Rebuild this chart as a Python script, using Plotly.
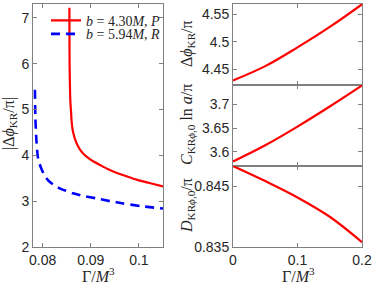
import plotly.graph_objects as go

# ---- data ----
red_gamma = [0.08556, 0.08557, 0.0856, 0.08566, 0.08575, 0.0859, 0.0860, 0.0862, 0.0865, 0.0868,
             0.0872, 0.0878, 0.0885, 0.0894, 0.0905, 0.0919, 0.0935, 0.0953, 0.0975, 0.0995, 0.1020, 0.1050]
red_phi = [7.22, 6.6, 6.0, 5.6, 5.2, 4.95, 4.77, 4.58, 4.43, 4.33,
           4.23, 4.12, 4.03, 3.95, 3.87, 3.79, 3.70, 3.62, 3.54, 3.47, 3.40, 3.32]

blue_gamma = [0.0784, 0.0785, 0.0787, 0.0790, 0.0793, 0.0797, 0.0803, 0.0811, 0.0822, 0.0835,
              0.0850, 0.0863, 0.0885, 0.0912, 0.0940, 0.0967, 0.1005, 0.1050]
blue_phi = [5.43, 4.8, 4.34, 3.97, 3.83, 3.72, 3.58, 3.46, 3.36, 3.28,
            3.22, 3.17, 3.11, 3.06, 3.00, 2.95, 2.89, 2.84]

gamma_r = [0, 0.05, 0.1, 0.15, 0.2]
dphi_r = [4.430, 4.456, 4.490, 4.527, 4.568]
c_r = [3.580, 3.614, 3.653, 3.695, 3.739]
d_r = [0.8484, 0.8459, 0.8432, 0.8400, 0.8358]

left_xticks = [0.08, 0.09, 0.1]
left_xticklabels = ["0.08", "0.09", "0.1"]
left_yticks = [2, 3, 4, 5, 6, 7]
right_xticks = [0, 0.1, 0.2]
right_xticklabels = ["0", "0.1", "0.2"]
top_yticks = [4.45, 4.5, 4.55]
mid_yticks = [3.6, 3.65, 3.7]
bot_yticks = [0.835, 0.845]

W, H = 374, 288
def px(x): return x / W
def py(y): return 1 - y / H

RED = "#ff0000"
BLUE = "#0000ff"
AX = "#808080"
TXT = "#262626"
SANS = "Liberation Sans, Arial, sans-serif"
SERIF = "Liberation Serif, Times New Roman, serif"

fig = go.Figure()
fig.add_trace(go.Scatter(x=red_gamma, y=red_phi, mode="lines", line=dict(color=RED, width=2.2, shape="spline", smoothing=0.6),
                         name="<i>b</i> = 4.30<i>M</i>, <i>P</i>", xaxis="x", yaxis="y", legend="legend"))
fig.add_trace(go.Scatter(x=blue_gamma, y=blue_phi, mode="lines",
                         line=dict(color=BLUE, width=2.6, dash="9px,6px", shape="spline", smoothing=0.6),
                         name="<i>b</i> = 5.94<i>M</i>, <i>R</i>", xaxis="x", yaxis="y", legend="legend2"))
fig.add_trace(go.Scatter(x=gamma_r, y=dphi_r, mode="lines", line=dict(color=RED, width=2.2, shape="spline"),
                         showlegend=False, xaxis="x2", yaxis="y2"))
fig.add_trace(go.Scatter(x=gamma_r, y=c_r, mode="lines", line=dict(color=RED, width=2.2, shape="spline"),
                         showlegend=False, xaxis="x3", yaxis="y3"))
fig.add_trace(go.Scatter(x=gamma_r, y=d_r, mode="lines", line=dict(color=RED, width=2.2, shape="spline"),
                         showlegend=False, xaxis="x4", yaxis="y4"))

common = dict(showline=True, linecolor=AX, linewidth=1, mirror="ticks", ticks="inside", ticklen=4,
              tickcolor=AX, showgrid=False, zeroline=False, automargin=False,
              tickfont=dict(family=SANS, size=14, color=TXT))

lx = [px(33), px(163)]
rx = [px(233), px(362)]
fig.update_layout(
    width=W, height=H, margin=dict(l=0, r=0, t=0, b=0),
    paper_bgcolor="white", plot_bgcolor="white",
    xaxis=dict(domain=lx, range=[0.078, 0.105], tickvals=left_xticks, ticktext=left_xticklabels,
               anchor="y", **common),
    yaxis=dict(domain=[py(247), py(4)], range=[2, 7.3], tickvals=left_yticks, anchor="x", **common),
    xaxis2=dict(domain=rx, range=[0, 0.2], tickvals=right_xticks, showticklabels=False, anchor="y2", **common),
    yaxis2=dict(domain=[py(85), py(4)], range=[4.4218, 4.5685], tickvals=top_yticks, anchor="x2", **common),
    xaxis3=dict(domain=rx, range=[0, 0.2], tickvals=right_xticks, showticklabels=False, anchor="y3", **common),
    yaxis3=dict(domain=[py(166), py(85)], range=[3.5706, 3.740], tickvals=mid_yticks, anchor="x3", **common),
    xaxis4=dict(domain=rx, range=[0, 0.2], tickvals=right_xticks, ticktext=right_xticklabels,
                anchor="y4", **common),
    yaxis4=dict(domain=[py(247), py(166)], range=[0.835, 0.8484], tickvals=bot_yticks,
                tickformat=".3f", anchor="x4", **common),
    legend=dict(x=px(46), y=py(20.7), xanchor="left", yanchor="middle", bgcolor="rgba(0,0,0,0)",
                borderwidth=0, font=dict(family=SERIF, size=14, color=TXT)),
    legend2=dict(x=px(46), y=py(34.3), xanchor="left", yanchor="middle", bgcolor="rgba(0,0,0,0)",
                 borderwidth=0, font=dict(family=SERIF, size=14, color=TXT)),
)

ann_font = dict(family=SERIF, size=16, color=TXT)
annotations = [
    dict(text="Γ/<i>M</i><sup>3</sup>", x=px(98), y=py(275), textangle=0),
    dict(text="Γ/<i>M</i><sup>3</sup>", x=px(298), y=py(275), textangle=0),
    dict(text="|Δ<i>ϕ</i><sub>KR</sub>/π|", x=px(9), y=py(124), textangle=-90),
    dict(text="Δ<i>ϕ</i><sub>KR</sub>/π", x=px(187), y=py(44), textangle=-90),
    dict(text="<i>C</i><sub>KR<i>ϕ</i>,0</sub> ln <i>a</i>/π", x=px(187), y=py(125), textangle=-90),
    dict(text="<i>D</i><sub>KR<i>ϕ</i>,0</sub>/π", x=px(187), y=py(206), textangle=-90),
]
for a in annotations:
    fig.add_annotation(xref="paper", yref="paper", showarrow=False, font=ann_font,
                       xanchor="center", yanchor="middle", **a)

fig.write_html("out.html", config={"displayModeBar": False},
               post_script="document.body.style.margin='0';document.body.style.overflow='hidden';")
